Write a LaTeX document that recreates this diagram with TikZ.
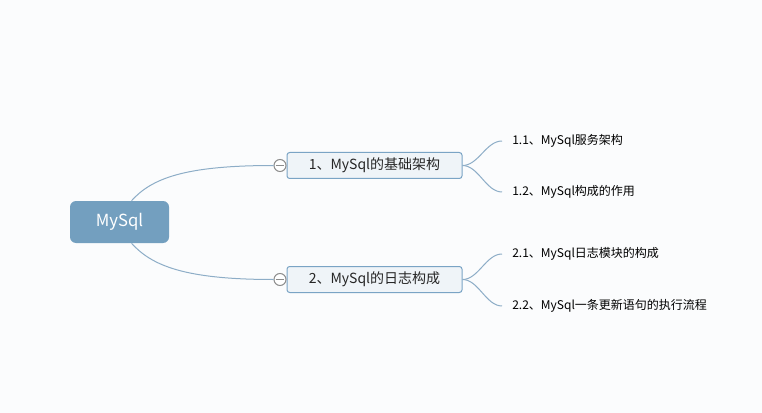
\documentclass[tikz,border=0pt]{standalone}
\usepackage{fontspec}
\setmainfont{Noto Sans CJK SC}
\usepackage{tikz}

\definecolor{bgcol}{RGB}{251,252,253}
\definecolor{rootfill}{RGB}{115,159,191}
\definecolor{boxfill}{RGB}{239,244,248}
\definecolor{boxline}{RGB}{122,164,197}
\definecolor{linkcol}{RGB}{141,173,199}

\begin{document}
\begin{tikzpicture}[x=0.75pt,y=0.75pt,yscale=-1,xscale=1,
  rootbox/.style={fill=rootfill,rounded corners=4.5pt,minimum width=74.25pt,minimum height=31.5pt,text=white,font=\fontsize{12.5pt}{15pt}\selectfont},
  branchbox/.style={draw=boxline,fill=boxfill,line width=0.75pt,rounded corners=2pt,minimum width=131.25pt,minimum height=19.5pt,font=\fontsize{10.5pt}{13pt}\selectfont,text=black!85},
  foldmark/.style={circle,draw=black!45,fill=white,line width=0.75pt,minimum size=9pt,inner sep=0pt},
  leaf/.style={anchor=west,inner xsep=7.5pt,inner ysep=0.75pt,font=\fontsize{9pt}{11pt}\selectfont},
  link/.style={draw=linkcol,line width=0.75pt}]
%set diagram size
\fill [bgcol] (0,0) rectangle (762,413) ;

%Shape: Root [id:root]
\node [rootbox] (root) at (119.5,222) {MySql};
%Shape: Rectangle [id:b1]
\node [branchbox] (b1) at (374.5,165.5) {1、MySql的基础架构};
%Shape: Rectangle [id:b2]
\node [branchbox] (b2) at (374.5,279.5) {2、MySql的日志构成};
%Shape: Circle [id:c1]
\node [foldmark] (c1) at (280,165.5) {};
\draw [black!45,line width=0.75pt] ([xshift=1.8pt]c1.west) -- ([xshift=-1.8pt]c1.east) ;
%Shape: Circle [id:c2]
\node [foldmark] (c2) at (280,279.5) {};
\draw [black!45,line width=0.75pt] ([xshift=1.8pt]c2.west) -- ([xshift=-1.8pt]c2.east) ;

% Text Node
\node [leaf] (l11) at (502,141) {1.1、MySql服务架构};
% Text Node
\node [leaf] (l12) at (502,192) {1.2、MySql构成的作用};
% Text Node
\node [leaf] (l21) at (502,254) {2.1、MySql日志模块的构成};
% Text Node
\node [leaf] (l22) at (502,306) {2.2、MySql一条更新语句的执行流程};

%Curves [id:links]
\draw [link] ([xshift=9pt]root.north) .. controls +(20,-22) and +(-90,0) .. (c1.west) ;
\draw [link] ([xshift=9pt]root.south) .. controls +(20,22) and +(-90,0) .. (c2.west) ;
\draw [link] (b1.east) .. controls +(16,0) and +(-16,0) .. (l11.west) ;
\draw [link] (b1.east) .. controls +(16,0) and +(-16,0) .. (l12.west) ;
\draw [link] (b2.east) .. controls +(16,0) and +(-16,0) .. (l21.west) ;
\draw [link] (b2.east) .. controls +(16,0) and +(-16,0) .. (l22.west) ;

\end{tikzpicture}
\end{document}
